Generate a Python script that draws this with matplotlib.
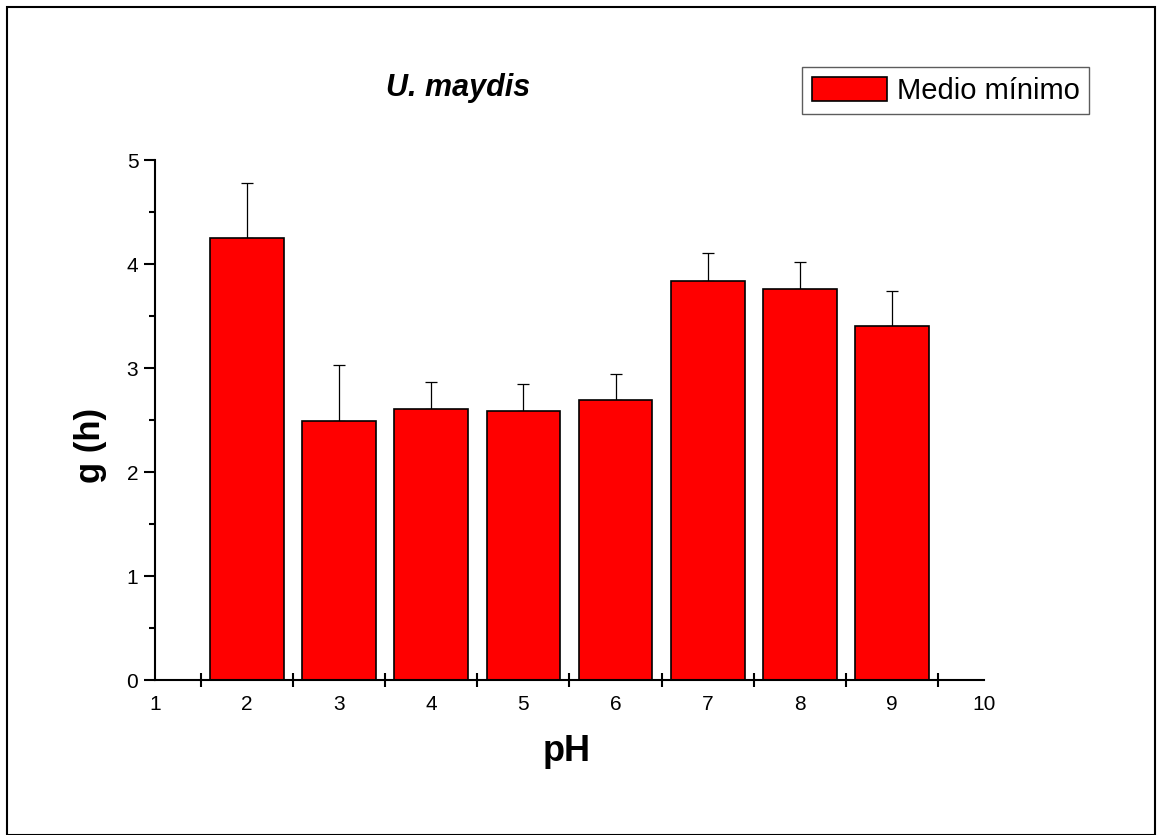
import matplotlib
matplotlib.use("Agg")
import matplotlib.pyplot as plt
from matplotlib.patches import Rectangle
from matplotlib.ticker import MultipleLocator, FixedLocator

plt.rcParams["font.family"] = ["Liberation Sans", "DejaVu Sans"]

# datos
ph = [2, 3, 4, 5, 6, 7, 8, 9]
g_h = [4.25, 2.49, 2.61, 2.59, 2.69, 3.84, 3.76, 3.40]
err = [0.53, 0.54, 0.26, 0.26, 0.25, 0.27, 0.26, 0.34]
xticks = list(range(1, 11))

fig = plt.figure(figsize=(11.61, 8.35), dpi=100)
ax = fig.add_axes([155 / 1161, 1 - 680 / 835, (984 - 155) / 1161, (680 - 160) / 835])

ax.bar(ph, g_h, width=0.8, color="#ff0000", edgecolor="black", linewidth=1.2,
       label="Medio mínimo", zorder=2)
ax.errorbar(ph, g_h, yerr=[[0] * len(err), err], fmt="none", ecolor="black",
            elinewidth=0.9, capsize=4.5, capthick=0.9, zorder=1)

ax.set_xlim(1, 10)
ax.set_ylim(0, 5)

for s in ["top", "right"]:
    ax.spines[s].set_visible(False)
for s in ["left", "bottom"]:
    ax.spines[s].set_linewidth(1.5)

ax.xaxis.set_major_locator(FixedLocator(xticks))
ax.xaxis.set_minor_locator(FixedLocator([x + 0.5 for x in xticks[:-1]]))
ax.tick_params(axis="x", which="major", length=0, pad=11, labelsize=15)
ax.tick_params(axis="x", which="minor", direction="inout", length=9.5, width=1.5)

ax.yaxis.set_major_locator(MultipleLocator(1))
ax.yaxis.set_minor_locator(MultipleLocator(0.5))
ax.tick_params(axis="y", which="major", direction="out", length=8, width=1.5,
               pad=4, labelsize=15)
ax.tick_params(axis="y", which="minor", direction="out", length=4, width=1.5)

ax.set_xlabel("pH", fontsize=26, fontweight="bold")
ax.set_ylabel("g (h)", fontsize=25, fontweight="bold")
ax.xaxis.set_label_coords(0.497, -0.104)
ax.yaxis.set_label_coords(-0.058, 0.452)

fig.text(458 / 1161, 1 - 88 / 835, "U. maydis", fontsize=22, fontweight="bold",
         fontstyle="italic", ha="center", va="center")

leg = ax.legend(loc="upper left", bbox_to_anchor=(802 / 1161, 1 - 67 / 835),
                bbox_transform=fig.transFigure, fontsize=21, frameon=True,
                fancybox=False, borderpad=0.33, handlelength=2.6,
                handleheight=0.9, handletextpad=0.32, borderaxespad=0)
leg.get_frame().set_edgecolor("#333333")
leg.get_frame().set_linewidth(1.0)

fig.patches.append(Rectangle((7 / 1161, 0), (1155 - 7) / 1161, 1 - 7 / 835,
                             transform=fig.transFigure, fill=False,
                             edgecolor="black", linewidth=1.5))

fig.savefig("out.png", dpi=100)
